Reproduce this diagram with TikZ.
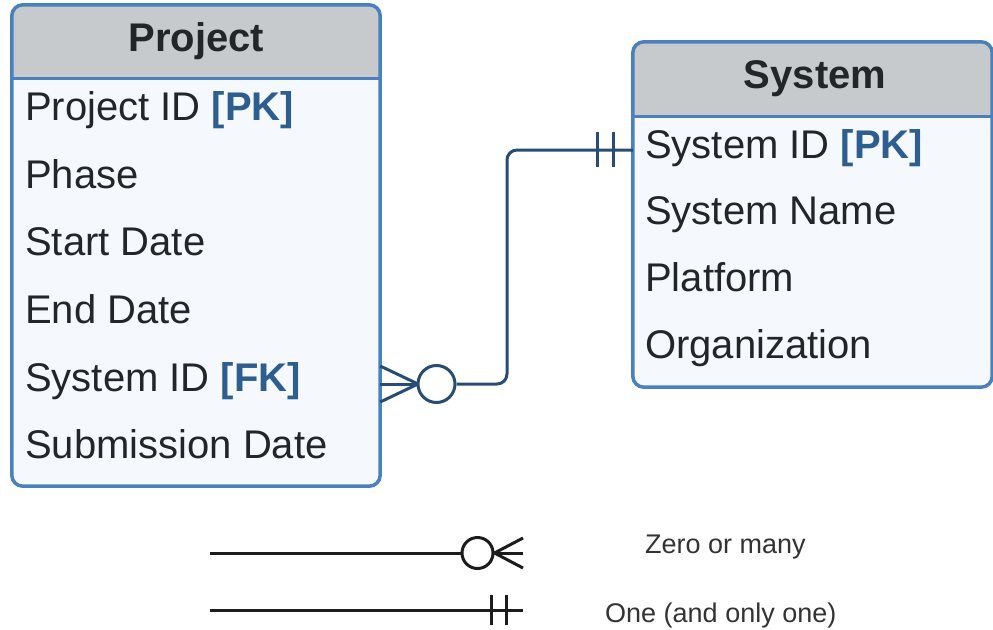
\documentclass[tikz,border=0pt]{standalone}
\usepackage{fontspec}
\setmainfont{Liberation Sans}

\definecolor{frameblue}{HTML}{4A80BC}
\definecolor{headgray}{HTML}{C6CACD}
\definecolor{bodyfill}{HTML}{F5F9FE}
\definecolor{linkblue}{HTML}{284D75}
\definecolor{keyblue}{HTML}{2D5E8F}
\definecolor{ink}{HTML}{222629}
\definecolor{legendink}{HTML}{1C1C1C}
\definecolor{legendtext}{HTML}{333333}

\newcommand{\keytag}[1]{{\color{keyblue}\bfseries [#1]}}

\tikzset{
  entitybody/.style={fill=bodyfill, draw=none, rounded corners=11pt, inner sep=0pt},
  entityframe/.style={draw=frameblue, line width=3.5pt, rounded corners=11pt},
  headrule/.style={draw=frameblue, line width=3pt},
  headtext/.style={anchor=base, inner sep=0pt, text=ink, font=\bfseries\fontsize{40}{46}\selectfont},
  rowtext/.style={anchor=base west, inner sep=0pt, text=ink, font=\fontsize{40}{46}\selectfont},
  link/.style={draw=linkblue, line width=3pt},
  legendline/.style={draw=legendink, line width=3pt},
  legendlabel/.style={anchor=base west, inner sep=0pt, text=legendtext, font=\fontsize{27}{32}\selectfont},
}

\begin{document}
\begin{tikzpicture}[x=1pt, y=-1pt]
\useasboundingbox (0,0) rectangle (993,629);

% ---------- Project entity ----------
\node[entitybody, minimum width=368pt, minimum height=481pt] (project) at (196,245.5) {};
\begin{scope}
  \clip[rounded corners=11pt] (project.north west) rectangle (project.south east);
  \fill[headgray] (project.north west) rectangle (project.east |- 0,78);
\end{scope}
\draw[headrule] (project.west |- 0,78) -- (project.east |- 0,78);
\draw[entityframe] (project.north west) rectangle (project.south east);

\node[headtext] (projecttitle) at (196.5,51) {Project};
\node[rowtext] (pid)    at (25,120) {Project ID \keytag{PK}};
\node[rowtext] (phase)  at (25,188) {Phase};
\node[rowtext] (pstart) at (25,255) {Start Date};
\node[rowtext] (pend)   at (25,323) {End Date};
\node[rowtext] (psys)   at (25,391) {System ID \keytag{FK}};
\node[rowtext] (psub)   at (25,458) {Submission Date};

% ---------- System entity ----------
\node[entitybody, minimum width=359pt, minimum height=345pt] (system) at (812.5,214.5) {};
\begin{scope}
  \clip[rounded corners=11pt] (system.north west) rectangle (system.south east);
  \fill[headgray] (system.north west) rectangle (system.east |- 0,116);
\end{scope}
\draw[headrule] (system.west |- 0,116) -- (system.east |- 0,116);
\draw[entityframe] (system.north west) rectangle (system.south east);

\node[headtext] (systemtitle) at (815,88) {System};
\node[rowtext] (sid)   at (645,158) {System ID \keytag{PK}};
\node[rowtext] (sname) at (645,224) {System Name};
\node[rowtext] (splat) at (645,291) {Platform};
\node[rowtext] (sorg)  at (645,358) {Organization};

% ---------- Relationship: many Projects to one System ----------
\coordinate (fkend) at (project.east |- 0,384);
\coordinate (pkend) at (system.west |- 0,150);
\coordinate (crowtip) at (418,384);
\node[link, circle, fill=white, minimum size=37pt, inner sep=0pt] (zeroring) at (436.5,384) {};
\draw[link] (fkend) ++(0,-18) -- (crowtip);
\draw[link] (fkend) -- (zeroring.west);
\draw[link] (fkend) ++(0,18) -- (crowtip);
\draw[link, rounded corners=10pt] (zeroring.east) -- (507,384) -- (507,150) -- (pkend);
\draw[link] (597,132) -- (597,167);
\draw[link] (613,132) -- (613,167);

% ---------- Legend ----------
\coordinate (zmstart) at (210,553);
\coordinate (zmend) at (523,553);
\node[legendline, circle, minimum size=31pt, inner sep=0pt] (legring) at (477.5,553) {};
\draw[legendline] (zmstart) -- (legring.west);
\draw[legendline] (legring.east) -- (523,538);
\draw[legendline] (legring.east) -- (zmend);
\draw[legendline] (legring.east) -- (523,568);
\node[legendlabel] (zmlabel) at (645,553) {Zero or many};

\coordinate (oostart) at (210,610);
\coordinate (ooend) at (523,610);
\draw[legendline] (oostart) -- (ooend);
\draw[legendline] (491,595) -- (491,625);
\draw[legendline] (506,595) -- (506,625);
\node[legendlabel] (oolabel) at (605,622) {One (and only one)};
\end{tikzpicture}
\end{document}
